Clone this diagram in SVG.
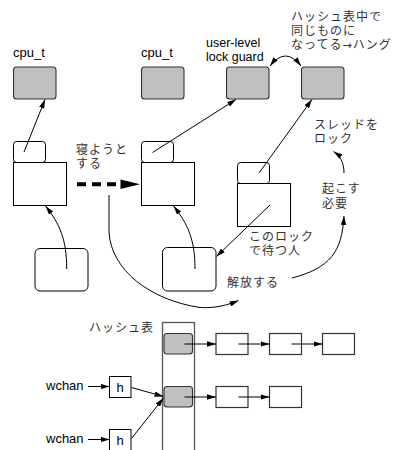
<svg xmlns="http://www.w3.org/2000/svg" width="401" height="450" viewBox="0 0 401 450">
<defs>
<marker id="ah" viewBox="0 0 10 6" refX="10" refY="3" markerWidth="9" markerHeight="5.4" markerUnits="userSpaceOnUse" orient="auto-start-reverse">
<path d="M0,0 L10,3 L0,6 Z" fill="#000"/>
</marker>
</defs>
<style>
.g{fill:#c0c0c0;stroke:#333;stroke-width:1.1}
.w{fill:#fff;stroke:#000;stroke-width:1}
.lb{fill:#fff;stroke:#333;stroke-width:1.2}
.c{fill:none;stroke:#000;stroke-width:1}
.en{font-family:"Liberation Sans",Arial,sans-serif;font-size:13px;fill:#000}
.en2{font-family:"Liberation Sans",Arial,sans-serif;font-size:12.5px;fill:#000}
.jp{font-family:"Liberation Sans","Noto Sans CJK JP",sans-serif;font-size:12px;fill:#333;letter-spacing:1px}
.ar{font-family:"DejaVu Sans",sans-serif;font-size:11px;letter-spacing:1px}
</style>
<rect width="401" height="450" fill="#fff"/>

<g id="labels">
<text class="en" x="13" y="57">cpu_t</text>
<text class="en" x="141" y="57">cpu_t</text>
<text class="en2" x="206" y="47">user-level<tspan x="206" y="61">lock guard</tspan></text>
<text class="jp" x="291" y="21">ハッシュ表中で<tspan x="291" y="35">同じものに</tspan><tspan x="291" y="49">なってる<tspan class="ar">→</tspan>ハング</tspan></text>
<text class="jp" x="76" y="153.5">寝ようと<tspan x="76" y="167.5">する</tspan></text>
<text class="jp" x="314" y="129">スレッドを<tspan x="314" y="143">ロック</tspan></text>
<text class="jp" x="322" y="193">起こす<tspan x="322" y="207.5">必要</tspan></text>
<text class="jp" x="249" y="241">このロック<tspan x="249" y="255">で待つ人</tspan></text>
<text class="jp" x="227" y="287">解放する</text>
<text class="jp" x="89" y="332">ハッシュ表</text>
<text class="en" x="46" y="390">wchan</text>
<text class="en" x="46" y="443">wchan</text>
</g>

<g id="cpu1"><rect class="g" x="13.5" y="67" width="42.5" height="32" rx="3"/></g>
<g id="cpu2"><rect class="g" x="141.5" y="67" width="42.5" height="32" rx="3"/></g>
<g id="guard1"><rect class="g" x="226.5" y="67" width="42.5" height="32" rx="3"/></g>
<g id="guard2"><rect class="g" x="301.5" y="67" width="42.5" height="32" rx="3"/></g>

<g id="thread1">
<rect class="w" x="13.5" y="141.5" width="32" height="21" rx="3"/>
<rect class="w" x="13.5" y="162.5" width="53" height="43"/>
</g>
<g id="thread2">
<rect class="w" x="141.5" y="141.5" width="32" height="21" rx="3"/>
<rect class="w" x="141.5" y="162.5" width="53" height="43"/>
</g>
<g id="thread3">
<rect class="w" x="237.5" y="162.5" width="32" height="21" rx="3"/>
<rect class="w" x="237.5" y="183.5" width="53" height="43"/>
</g>
<g id="obj1"><rect class="w" x="35" y="248.5" width="53" height="42.5" rx="5"/></g>
<g id="obj2"><rect class="w" x="162.5" y="247.5" width="53.5" height="43.5" rx="5"/></g>

<g id="hashtable">
<rect x="162.5" y="322.5" width="32" height="140" fill="#fff" stroke="#555" stroke-width="1.3"/>
<rect class="g" x="164" y="333.5" width="28.5" height="20.5" rx="3"/>
<rect class="g" x="164" y="386.5" width="28.5" height="20.5" rx="3"/>
</g>
<g id="list1">
<rect class="lb" x="216" y="333.5" width="32" height="21"/>
<rect class="lb" x="269.5" y="333.5" width="32" height="21"/>
<rect class="lb" x="322.5" y="333.5" width="32" height="21"/>
</g>
<g id="list2">
<rect class="lb" x="216" y="386.5" width="32" height="21"/>
<rect class="lb" x="269.5" y="386.5" width="32" height="21"/>
</g>
<g id="h1"><rect class="w" x="109.5" y="376.5" width="21.5" height="21"/><text class="en" x="120.2" y="392" text-anchor="middle">h</text></g>
<g id="h2"><rect class="w" x="109.5" y="429.5" width="21.5" height="21"/><text class="en" x="120.2" y="445" text-anchor="middle">h</text></g>

<g id="connectors">
<path class="c" d="M24,152 L45,99.5" marker-end="url(#ah)"/>
<path class="c" d="M152.5,152.5 L236,99.5" marker-end="url(#ah)"/>
<path class="c" d="M259,173 L312,99.5" marker-end="url(#ah)"/>
<path class="c" d="M270,66 Q285.5,46 301,66" marker-start="url(#ah)" marker-end="url(#ah)"/>
<path class="c" d="M66.7,269 C66.7,240 60,224 45.5,206" marker-end="url(#ah)"/>
<path class="c" d="M195,269 C195,240 188,224 173.5,206" marker-end="url(#ah)"/>
<path class="c" d="M270,205 L216.5,256.5" marker-end="url(#ah)"/>
<path d="M77,184.3 H116" stroke="#000" stroke-width="4" stroke-dasharray="9,6" fill="none"/>
<path d="M120.5,179.5 L140,184.3 L120.5,189 Z" fill="#000"/>
<path class="c" d="M109,195 L109,232 C111,270 150,300 200,307.5 C215,308.5 228,305 238.5,300.5" marker-end="url(#ah)"/>
<path class="c" d="M292,278 C330,268 342,252 344,216" marker-end="url(#ah)"/>
<path class="c" d="M344,173 C344,162 340,156 333.5,151.5" marker-end="url(#ah)"/>
<path class="c" d="M184.5,344 H216" marker-end="url(#ah)"/>
<path class="c" d="M238.5,344 H269.5" marker-end="url(#ah)"/>
<path class="c" d="M291.5,344 H322.5" marker-end="url(#ah)"/>
<path class="c" d="M184.5,397 H216" marker-end="url(#ah)"/>
<path class="c" d="M238.5,397 H269.5" marker-end="url(#ah)"/>
<path class="c" d="M88,386.5 H109.5" marker-end="url(#ah)"/>
<path class="c" d="M88,439.5 H109.5" marker-end="url(#ah)"/>
<path class="c" d="M131.5,387.5 L163.5,396.5" marker-end="url(#ah)"/>
<path class="c" d="M131.5,438.5 L163.5,398" marker-end="url(#ah)"/>
</g>
</svg>
